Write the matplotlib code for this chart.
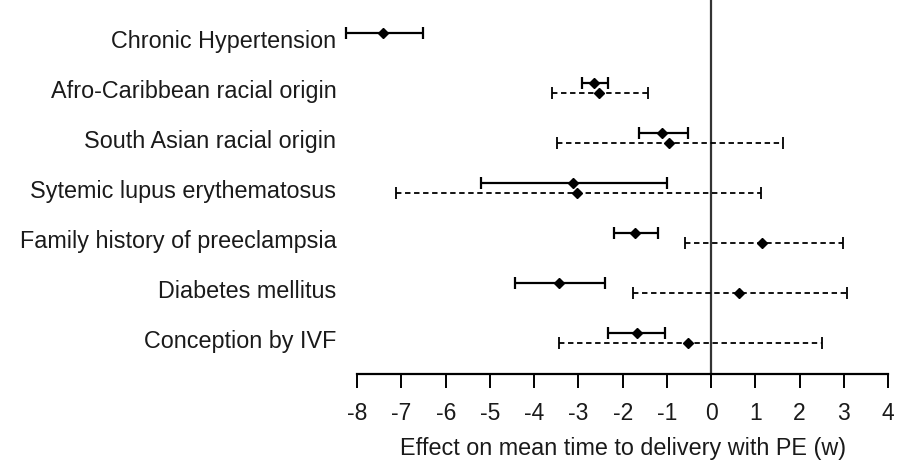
import matplotlib
matplotlib.use("Agg")
import matplotlib.pyplot as plt
import numpy as np

plt.rcParams['font.family'] = ['Liberation Sans', 'DejaVu Sans']
plt.rcParams['axes.unicode_minus'] = False

# categories, top to bottom
labels = ["Chronic Hypertension", "Afro-Caribbean racial origin", "South Asian racial origin",
          "Sytemic lupus erythematosus", "Family history of preeclampsia",
          "Diabetes mellitus", "Conception by IVF"]

# solid series (mean, lower, upper)
solid_mean = [-7.41, -2.64, -1.11, -3.13, -1.73, -3.43, -1.68]
solid_lo = [-8.25, -2.92, -1.62, -5.20, -2.19, -4.44, -2.33]
solid_hi = [-6.51, -2.34, -0.52, -1.00, -1.20, -2.39, -1.04]

# dashed series (no value for chronic hypertension)
dash_mean = [np.nan, -2.54, -0.96, -3.03, 1.16, 0.62, -0.52]
dash_lo = [np.nan, -3.59, -3.48, -7.12, -0.60, -1.76, -3.45]
dash_hi = [np.nan, -1.42, 1.62, 1.12, 2.97, 3.06, 2.50]

n = len(labels)
ypos = np.arange(n)[::-1]

fig = plt.figure(figsize=(9.09, 4.66), dpi=100)
ax = fig.add_axes([0.393, 0.197, 0.584, 0.803])

sm = np.array(solid_mean)
ax.errorbar(sm, ypos + 0.12,
            xerr=[sm - np.array(solid_lo), np.array(solid_hi) - sm],
            fmt='D', color='black', markersize=5, elinewidth=1.6,
            capsize=4, capthick=1.6, clip_on=False)

dm = np.array(dash_mean)
eb2 = ax.errorbar(dm, ypos - 0.08,
                  xerr=[dm - np.array(dash_lo), np.array(dash_hi) - dm],
                  fmt='D', color='black', markersize=5, elinewidth=1.3,
                  capsize=4, capthick=1.3)
eb2[2][0].set_linestyle((0, (3, 2)))

ax.axvline(0, color='#333333', lw=1.6, zorder=0)

ax.set_xlim(-8, 4)
ax.set_ylim(-0.7, 6.78)
ax.set_xticks(np.arange(-8, 5, 1))
ax.set_yticks(ypos)
ax.set_yticklabels(labels, fontsize=16.8, color='#1a1a1a')
ax.tick_params(axis='y', length=0, pad=15)
ax.tick_params(axis='x', direction='out', length=10, width=1.4, labelsize=16.5, pad=10,
               labelcolor='#1a1a1a')
for s in ['left', 'right', 'top']:
    ax.spines[s].set_visible(False)
ax.spines['bottom'].set_linewidth(1.6)
ax.set_xlabel('Effect on mean time to delivery with PE (w)', fontsize=16.8, labelpad=9,
              color='#1a1a1a')

plt.savefig('out.png', dpi=100)
